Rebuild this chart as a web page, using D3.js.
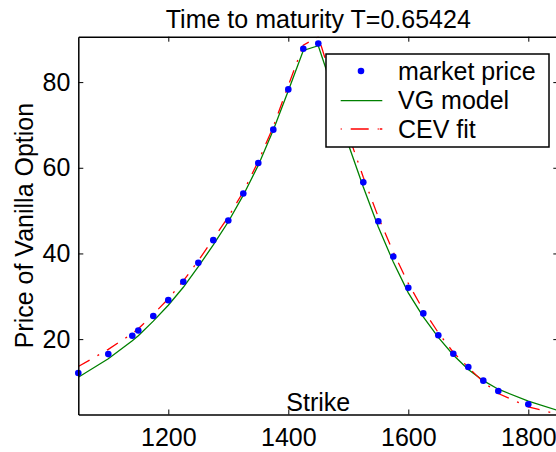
<!DOCTYPE html>
<html>
<head>
<meta charset="utf-8">
<script src="https://cdn.jsdelivr.net/npm/d3@7"></script>
<style>
  body { margin: 0; background: #fff; }
  svg text { font-family: "Liberation Sans", Arial, sans-serif; fill: #000; }
</style>
</head>
<body>
<div id="chart"></div>
<script>
const strikes = [1050, 1100, 1140, 1150, 1175, 1200, 1225, 1250, 1275, 1300, 1325, 1350, 1375, 1400, 1425,
  1450, 1475, 1500, 1525, 1550, 1575, 1600, 1625, 1650, 1675, 1700, 1725, 1750, 1800];
const marketPrice = [12.1, 16.5, 20.8, 22.0, 25.4, 29.1, 33.4, 37.8, 43.1, 47.7, 54.0, 61.1, 68.9, 78.3, 87.8,
  89.0, 77.0, 66.0, 56.6, 47.5, 39.3, 32.0, 26.0, 20.9, 16.6, 13.5, 10.3, 7.9, 4.8];

const modelStrikes = [1050, 1100, 1140, 1150, 1175, 1200, 1225, 1250, 1275, 1300, 1325, 1350, 1375, 1400, 1425,
  1450, 1475, 1500, 1525, 1550, 1575, 1600, 1625, 1650, 1675, 1700, 1725, 1750, 1800, 1850];
const vgModel = [11.1, 15.4, 19.6, 20.8, 24.2, 27.9, 32.1, 36.9, 42.0, 47.4, 53.6, 60.6, 68.8, 78.0, 87.4,
  88.5, 78.0, 65.5, 55.5, 46.2, 38.0, 30.8, 25.2, 20.4, 16.3, 12.9, 10.3, 8.3, 5.5, 3.3];
const cevFit = [13.6, 17.6, 21.3, 22.4, 25.8, 29.4, 33.6, 38.3, 43.4, 48.5, 54.4, 61.5, 69.6, 79.2, 88.6,
  90.6, 79.5, 67.8, 57.8, 48.5, 40.3, 33.0, 26.8, 21.5, 16.9, 13.4, 10.0, 7.3, 4.2, 2.4];

const xTicks = [1200, 1400, 1600, 1800];
const yTicks = [20, 40, 60, 80];
const seriesNames = ["market price", "VG model", "CEV fit"];

const W = 556, H = 452;
const margin = { top: 36.7, right: -2.3, bottom: 37.5, left: 78.3 },
      width = W - margin.left - margin.right,
      height = H - margin.top - margin.bottom;
const fontSize = 25;

const svg = d3.select("#chart")
  .append("svg")
  .attr("width", W)
  .attr("height", H);

const g = svg.append("g")
  .attr("transform", `translate(${margin.left},${margin.top})`);

const x = d3.scaleLinear()
  .domain([1050, 1850])
  .range([0, width]);

const allValues = marketPrice.concat(vgModel, cevFit);
const y = d3.scaleLinear()
  .domain(d3.extent(allValues))
  .range([height, 0]);

g.append("clipPath").attr("id", "clip")
  .append("rect").attr("width", width).attr("height", height);

const plot = g.append("g").attr("clip-path", "url(#clip)");

const line = (xs) => d3.line()
  .x((d, i) => x(xs[i]))
  .y(d => y(d));

plot.append("path")
  .datum(vgModel)
  .attr("fill", "none")
  .attr("stroke", "#008000")
  .attr("stroke-width", 1.3)
  .attr("d", line(modelStrikes));

plot.append("path")
  .datum(cevFit)
  .attr("fill", "none")
  .attr("stroke", "#ff0000")
  .attr("stroke-width", 1.3)
  .attr("stroke-dasharray", "13,9,2,9")
  .attr("d", line(modelStrikes));

// markers are not clipped at the axes edge
g.selectAll(".dot")
  .data(marketPrice)
  .enter().append("circle")
  .attr("class", "dot")
  .attr("cx", (d, i) => x(strikes[i]))
  .attr("cy", d => y(d))
  .attr("r", 3.3)
  .attr("fill", "#0000ff");

// axes box, ticks pointing inward
const styleAxis = sel => {
  sel.select(".domain").attr("stroke", "#000").attr("stroke-width", 1.5);
  sel.selectAll(".tick line").attr("stroke", "#000").attr("stroke-width", 1);
  sel.selectAll("text").attr("font-size", fontSize).attr("font-family", "Liberation Sans, Arial, sans-serif");
};

g.append("g")
  .attr("transform", `translate(0,${height})`)
  .call(d3.axisBottom(x).tickValues(xTicks).tickSize(-5).tickSizeOuter(0).tickPadding(14).tickFormat(d3.format("d")))
  .call(styleAxis);

g.append("g")
  .call(d3.axisTop(x).tickValues(xTicks).tickSize(-5).tickSizeOuter(0).tickFormat(""))
  .call(styleAxis);

g.append("g")
  .call(d3.axisLeft(y).tickValues(yTicks).tickSize(-5).tickSizeOuter(0).tickPadding(8))
  .call(styleAxis);

g.append("g")
  .attr("transform", `translate(${width},0)`)
  .call(d3.axisRight(y).tickValues(yTicks).tickSize(-5).tickSizeOuter(0).tickFormat(""))
  .call(styleAxis);

// labels
svg.append("text")
  .attr("x", margin.left + width / 2)
  .attr("y", 28)
  .attr("text-anchor", "middle")
  .attr("font-size", fontSize)
  .text("Time to maturity T=0.65424");

svg.append("text")
  .attr("x", margin.left + width / 2)
  .attr("y", 411)
  .attr("text-anchor", "middle")
  .attr("font-size", fontSize)
  .text("Strike");

svg.append("text")
  .attr("transform", `translate(33,${margin.top + height / 2}) rotate(-90)`)
  .attr("text-anchor", "middle")
  .attr("font-size", fontSize)
  .text("Price of Vanilla Option");

// legend
const legend = svg.append("g").attr("transform", "translate(326,54)");
legend.append("rect")
  .attr("width", 223)
  .attr("height", 93)
  .attr("fill", "#fff")
  .attr("stroke", "#000")
  .attr("stroke-width", 1.5);

const rowY = [17, 46.7, 75];
legend.append("circle")
  .attr("cx", 35).attr("cy", rowY[0]).attr("r", 3.3).attr("fill", "#0000ff");
legend.append("line")
  .attr("x1", 14.7).attr("x2", 56.3).attr("y1", rowY[1]).attr("y2", rowY[1])
  .attr("stroke", "#008000").attr("stroke-width", 1.3);
legend.append("line")
  .attr("x1", 14.7).attr("x2", 56.3).attr("y1", rowY[2]).attr("y2", rowY[2])
  .attr("stroke", "#ff0000").attr("stroke-width", 1.3)
  .attr("stroke-dasharray", "1,9,18,9,1");

legend.selectAll(".label")
  .data(seriesNames)
  .enter().append("text")
  .attr("class", "label")
  .attr("x", 72)
  .attr("y", (d, i) => rowY[i])
  .attr("dy", "0.35em")
  .attr("font-size", fontSize)
  .text(d => d);
</script>
</body>
</html>
